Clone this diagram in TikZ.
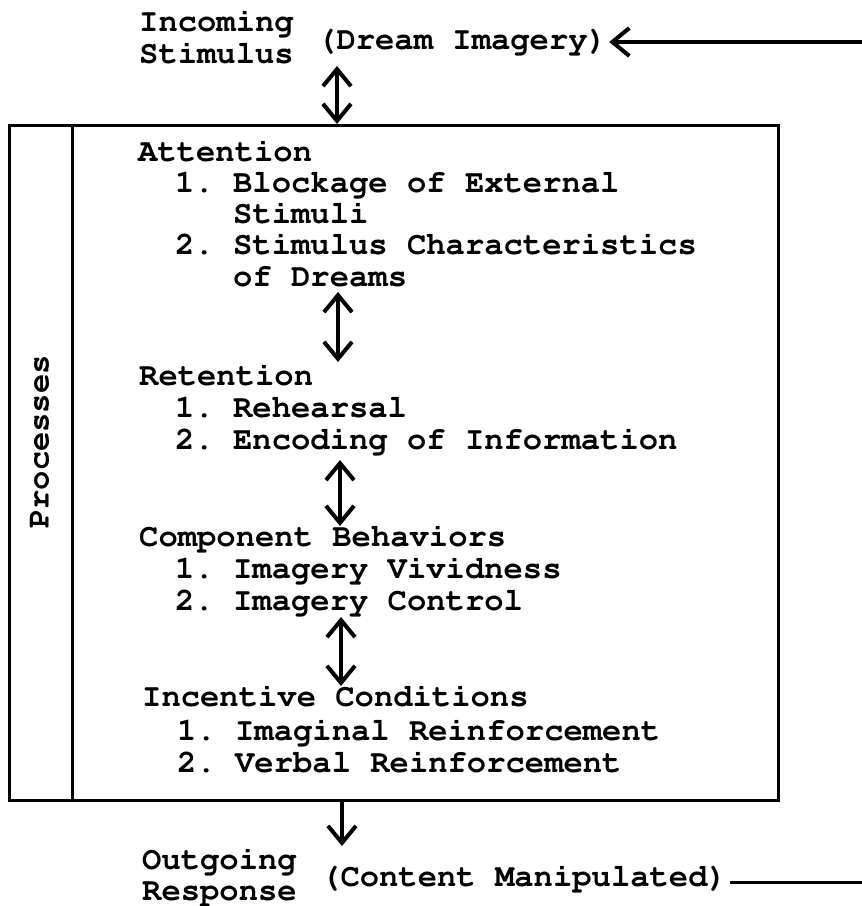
\documentclass[tikz,border=0pt]{standalone}
\usepackage[T1]{fontenc}
\usepackage{courier}
\usetikzlibrary{arrows.meta}
\begin{document}
\begin{tikzpicture}[x=1pt,y=-1pt,
  txt/.style={anchor=base west, inner sep=0pt,
    font=\fontsize{32.2}{31.5}\selectfont\ttfamily\bfseries\frenchspacing},
  frame/.style={line width=3pt},
  barb/.tip={Straight Barb[length=17pt,width=28pt,line width=4pt]},
  twoway/.style={line width=4pt, barb-barb},
  oneway/.style={line width=4pt, -barb},
]
\useasboundingbox (0,0) rectangle (862,906);

% outer frame and the column holding the "Processes" label
\draw[frame] (9,125) rectangle (778,800);
\draw[frame] (72,125) -- (72,800);
\node[inner sep=0pt, rotate=90,
  font=\fontsize{32.2}{31.5}\selectfont\ttfamily\bfseries]
  (proc) at (40,442) {Processes};

% input side
\node[txt] (inc1) at (139,31) {Incoming};
\node[txt] (inc2) at (139,63) {Stimulus};
\node[txt] (dream) at (317,49) {(Dream Imagery)};
\coordinate (inR) at (862,42);
\coordinate (inTop) at (337,66);
\coordinate (inBot) at (337,124);
\draw[oneway] (inR) -- ([xshift=2pt]dream.east |- inR);
\draw[twoway] (inTop) -- (inBot);

% Attention
\node[txt] (att) at (138,161) {Attention};
\node[txt] (att1) at (175,192) {1. Blockage of External};
\node[txt] (att1b) at (233,223) {Stimuli};
\node[txt] (att2) at (175,254) {2. Stimulus Characteristics};
\node[txt] (att2b) at (233,286) {of Dreams};

\coordinate (a1) at (338,292);
\coordinate (a2) at (338,362);
\draw[twoway] (a1) -- (a2);

% Retention
\node[txt] (ret) at (139,385) {Retention};
\node[txt] (ret1) at (175,417) {1. Rehearsal};
\node[txt] (ret2) at (175,449) {2. Encoding of Information};

\coordinate (b1) at (340,460);
\coordinate (b2) at (340,526);
\draw[twoway] (b1) -- (b2);

% Component behaviors
\node[txt] (comp) at (139,546) {Component Behaviors};
\node[txt] (comp1) at (175,578) {1. Imagery Vividness};
\node[txt] (comp2) at (175,610) {2. Imagery Control};

\coordinate (c1) at (341,617);
\coordinate (c2) at (341,686);
\draw[twoway] (c1) -- (c2);

% Incentive conditions
\node[txt] (incent) at (142,706) {Incentive Conditions};
\node[txt] (incent1) at (177,740) {1. Imaginal Reinforcement};
\node[txt] (incent2) at (177,772) {2. Verbal Reinforcement};

% output side
\coordinate (outTop) at (342,800);
\coordinate (outBot) at (342,846);
\draw[oneway] (outTop) -- (outBot);
\node[txt] (out1) at (142,869) {Outgoing};
\node[txt] (out2) at (142,900) {Response};
\node[txt] (content) at (321,886) {(Content Manipulated)};
\coordinate (outR) at (862,882);
\draw[line width=3pt] ([xshift=3pt]content.east |- outR) -- (outR);
\end{tikzpicture}
\end{document}
